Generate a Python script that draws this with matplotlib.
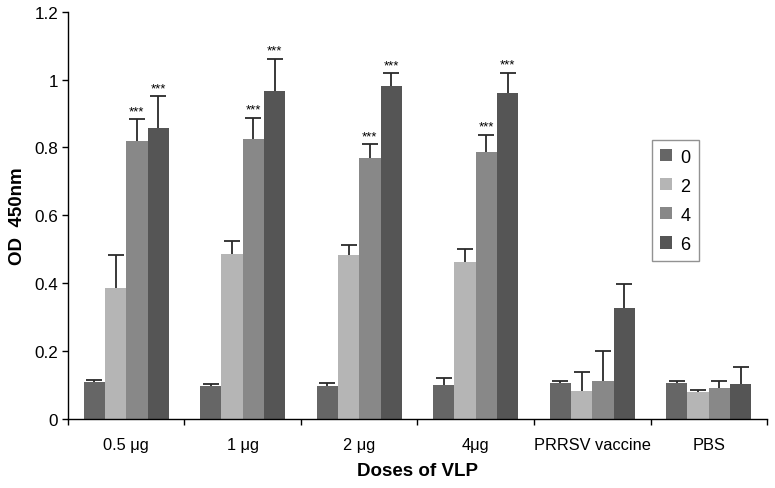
import matplotlib.pyplot as plt
import numpy as np

plt.rcParams['font.family'] = ['Liberation Sans', 'DejaVu Sans']

# 数据
groups = ["0.5 μg", "1 μg", "2 μg", "4μg", "PRRSV vaccine", "PBS"]
series = ["0", "2", "4", "6"]
od_0 = [0.108, 0.097, 0.098, 0.100, 0.105, 0.107]
od_2 = [0.385, 0.487, 0.482, 0.464, 0.083, 0.081]
od_4 = [0.818, 0.826, 0.769, 0.786, 0.111, 0.092]
od_6 = [0.856, 0.965, 0.982, 0.960, 0.326, 0.102]
err_0 = [0.008, 0.007, 0.008, 0.020, 0.007, 0.006]
err_2 = [0.099, 0.039, 0.030, 0.036, 0.057, 0.006]
err_4 = [0.066, 0.062, 0.041, 0.051, 0.089, 0.020]
err_6 = [0.095, 0.096, 0.037, 0.060, 0.073, 0.050]
# 显著性标记（每组的第4周、第6周）
stars_4 = ["***", "***", "***", "***", "", ""]
stars_6 = ["***", "***", "***", "***", "", ""]

colors = ["#666666", "#b5b5b5", "#888888", "#555555"]

fig = plt.figure(figsize=(7.75, 4.89), dpi=100)
ax = fig.add_axes([0.0877, 0.141, 0.902, 0.833])

x = np.arange(len(groups))
w = 0.183
values = [od_0, od_2, od_4, od_6]
errors = [err_0, err_2, err_4, err_6]
for i, (vals, errs) in enumerate(zip(values, errors)):
    pos = x + (i - 1.5) * w
    ax.bar(pos, vals, w, color=colors[i], label=series[i], linewidth=0)
    eb = ax.errorbar(pos, vals, yerr=[np.zeros(len(errs)), errs], fmt="none",
                     ecolor="#2a2a2a", elinewidth=1.3, capsize=5.5, capthick=1.3)
    # 只保留上方的横线
    eb[1][0].set_visible(False)

# 星号
for i, marks in [(2, stars_4), (3, stars_6)]:
    pos = x + (i - 1.5) * w
    for p, v, e, s in zip(pos, values[i], errors[i], marks):
        if s:
            ax.text(p, v + e + 0.006, s, ha="center", va="bottom", fontsize=9.5)

ax.set_xlim(-0.5, len(groups) - 0.5)
ax.set_ylim(0, 1.2)
ax.set_yticks([0, 0.2, 0.4, 0.6, 0.8, 1, 1.2])
ax.set_yticklabels(["0", "0.2", "0.4", "0.6", "0.8", "1", "1.2"])
ax.set_xticks(x)
ax.set_xticklabels(groups)
ax.set_xticks(np.arange(len(groups) + 1) - 0.5, minor=True)
ax.tick_params(axis="x", which="major", length=0, pad=13, labelsize=11.8)
ax.tick_params(axis="x", which="minor", length=4, width=1, direction="out")
ax.tick_params(axis="y", length=4, width=1, direction="out", labelsize=12.3, pad=3)

for s in ["top", "right"]:
    ax.spines[s].set_visible(False)
ax.spines["left"].set_linewidth(1)
ax.spines["bottom"].set_linewidth(1)

ax.set_ylabel("OD  450nm", fontsize=13.5, fontweight="bold")
ax.set_xlabel("Doses of VLP", fontsize=13.5, fontweight="bold")
ax.yaxis.set_label_coords(-0.072, 0.5)
ax.xaxis.set_label_coords(0.5, -0.127)
ax.xaxis.label.set_va("center")
ax.yaxis.label.set_va("center")

leg = ax.legend(loc="upper left", bbox_to_anchor=(0.835, 0.684), frameon=True,
                fancybox=False, edgecolor="#777777", fontsize=13,
                handlelength=0.65, handleheight=0.65, labelspacing=0.67,
                borderpad=0.45, handletextpad=0.5, borderaxespad=0)
leg.get_frame().set_linewidth(1)

fig.savefig("out.png", dpi=100)
